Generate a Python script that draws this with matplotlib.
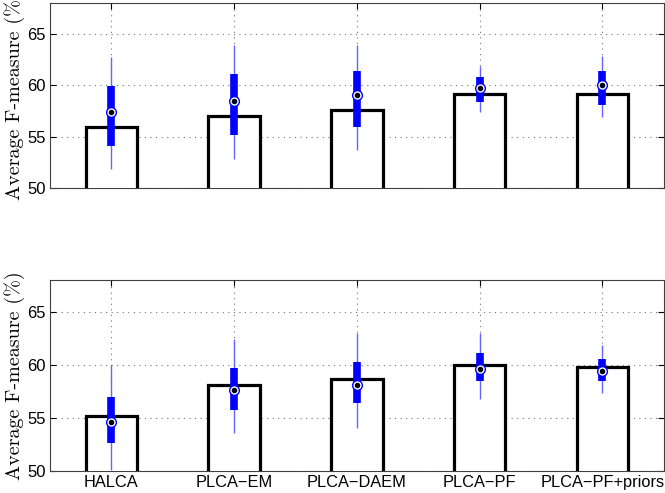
import matplotlib
matplotlib.use("Agg")
import matplotlib.pyplot as plt
import numpy as np

# ---- Data ----
methods = ["HALCA", "PLCA\u2212EM", "PLCA\u2212DAEM", "PLCA\u2212PF", "PLCA\u2212PF+priors"]

# top panel
top_mean = [55.9, 57.0, 57.6, 59.1, 59.1]
top_whislo = [51.8, 52.8, 53.7, 57.4, 56.9]
top_q1 = [54.1, 55.2, 55.9, 58.4, 58.1]
top_med = [57.4, 58.5, 59.0, 59.7, 60.0]
top_q3 = [59.9, 61.1, 61.4, 60.8, 61.4]
top_whishi = [62.7, 63.9, 63.9, 61.9, 62.8]

# bottom panel
bot_mean = [55.2, 58.1, 58.7, 60.0, 59.75]
bot_whislo = [50.1, 53.6, 54.0, 56.8, 57.3]
bot_q1 = [52.6, 55.7, 56.4, 58.5, 58.5]
bot_med = [54.6, 57.6, 58.1, 59.6, 59.4]
bot_q3 = [57.0, 59.7, 60.3, 61.1, 60.5]
bot_whishi = [60.0, 62.4, 63.0, 63.0, 61.9]

YTICKS = [50, 55, 60, 65]
BASE = 50
BAR_W = 0.42


def draw_panel(ax, means, whislo, q1, med, q3, whishi, show_labels):
    x = np.arange(1, len(methods) + 1)
    # white bar bodies hide grid + baseline spine underneath (like MATLAB)
    ax.bar(x, [m - BASE for m in means], width=BAR_W, bottom=BASE,
           color="white", linewidth=0, zorder=2.6, clip_on=False)
    # open outline: left side, top, right side (no bottom edge)
    for xi, m in zip(x, means):
        xl, xr = xi - BAR_W / 2, xi + BAR_W / 2
        ax.plot([xl, xl, xr, xr], [BASE, m, m, BASE], color="black",
                linewidth=2.3, solid_joinstyle="miter", zorder=2.7)
    ax.vlines(x, whislo, whishi, color=(0.4, 0.4, 1.0), linewidth=1.0, zorder=3)
    ax.vlines(x, q1, q3, color=(0, 0, 1), linewidth=5.5, zorder=4)
    ax.plot(x, med, "o", ms=7, mfc="white", mec="blue", mew=1.0, zorder=5)
    ax.plot(x, med, "o", ms=3, color="black", zorder=6)
    ax.set_xlim(0.5, len(methods) + 0.5)
    ax.set_ylim(BASE, 68)
    ax.set_xticks(x)
    ax.set_yticks(YTICKS)
    if show_labels:
        ax.set_xticklabels(methods, fontsize=11.8, family="Liberation Sans")
    else:
        ax.set_xticklabels([])
    for lab in ax.get_yticklabels():
        lab.set_family("Liberation Sans")
        lab.set_fontsize(12)
    ax.grid(True, linestyle=(0, (1, 4)), color="0.45", linewidth=0.8)
    ax.set_axisbelow(True)
    ax.tick_params(direction="in", top=True, right=True, length=4, pad=3)
    for sp in ax.spines.values():
        sp.set_linewidth(0.8)
        sp.set_color("0.25")
    ax.set_ylabel("Average F-measure (%)", family="cmr10", fontsize=14.5, labelpad=2)


fig = plt.figure(figsize=(6.65, 4.93), dpi=100)
ax1 = fig.add_axes([0.0752, 0.6187, 0.9228, 0.3752])
ax2 = fig.add_axes([0.0752, 0.0452, 0.9228, 0.3868])

draw_panel(ax1, top_mean, top_whislo, top_q1, top_med, top_q3, top_whishi, False)
draw_panel(ax2, bot_mean, bot_whislo, bot_q1, bot_med, bot_q3, bot_whishi, True)

fig.savefig("out.png", dpi=100)
